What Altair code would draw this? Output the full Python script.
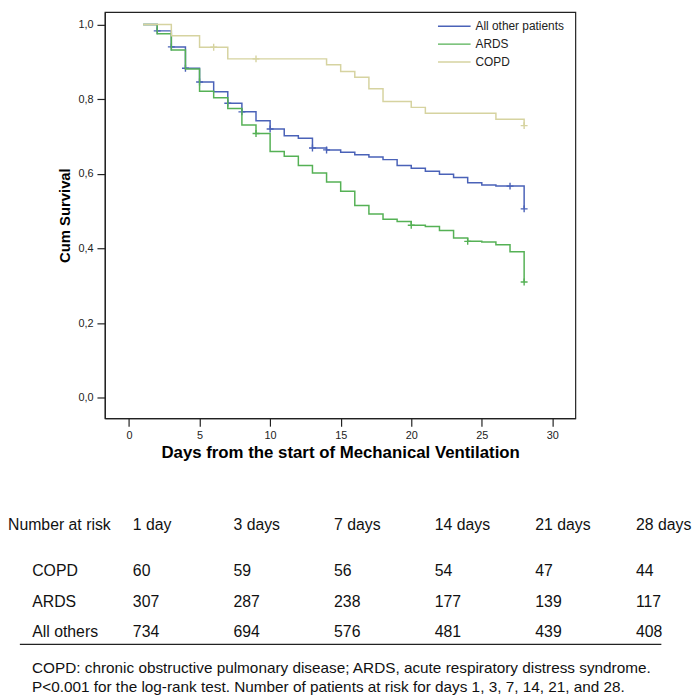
import altair as alt
import pandas as pd

# ---------------- Kaplan-Meier data ----------------
series_names = ["All other patients", "ARDS", "COPD"]
series_colors = ["#4a62b8", "#55b155", "#d6d3a0"]

others_t = [1, 2, 3, 4, 5, 6, 7, 8, 9, 10, 11, 12, 13, 14, 15, 16, 17, 18, 19, 20,
            21, 22, 23, 24, 25, 26, 28]
others_s = [1.0, 0.983, 0.940, 0.883, 0.846, 0.820, 0.789, 0.766, 0.742, 0.720, 0.702,
            0.695, 0.669, 0.664, 0.658, 0.651, 0.645, 0.638, 0.622, 0.615, 0.607, 0.599,
            0.590, 0.576, 0.570, 0.567, 0.506]
others_ct = [2, 3, 4, 5, 7, 8, 10, 13, 14, 27, 28]
others_cs = [0.983, 0.940, 0.883, 0.846, 0.789, 0.766, 0.720, 0.669, 0.664, 0.567, 0.506]

ards_t = [1, 2, 3, 4, 5, 6, 7, 8, 9, 10, 11, 12, 13, 14, 15, 16, 17, 18, 19, 20,
          21, 22, 23, 24, 25, 26, 27, 28]
ards_s = [1.0, 0.975, 0.932, 0.881, 0.821, 0.804, 0.775, 0.731, 0.708, 0.660, 0.647,
          0.622, 0.602, 0.578, 0.553, 0.515, 0.492, 0.478, 0.472, 0.462, 0.459, 0.448,
          0.428, 0.419, 0.417, 0.410, 0.391, 0.310]
ards_ct = [9, 20, 24, 28]
ards_cs = [0.708, 0.462, 0.419, 0.310]

copd_t = [1, 3, 5, 7, 14, 15, 16, 17, 18, 20, 21, 26, 28]
copd_s = [1.0, 0.970, 0.939, 0.908, 0.892, 0.874, 0.859, 0.828, 0.794, 0.778, 0.762,
          0.746, 0.729]
copd_ct = [6, 9, 28]
copd_cs = [0.939, 0.908, 0.729]

x_ticks = [0, 5, 10, 15, 20, 25, 30]
y_ticks = [0.0, 0.2, 0.4, 0.6, 0.8, 1.0]

# ---------------- Number-at-risk table ----------------
table_header = "Number at risk"
table_cols = ["1 day", "3 days", "7 days", "14 days", "21 days", "28 days"]
table_groups = ["COPD", "ARDS", "All others"]
copd_risk = [60, 59, 56, 54, 47, 44]
ards_risk = [307, 287, 238, 177, 139, 117]
others_risk = [734, 694, 576, 481, 439, 408]
footnotes = [
    "COPD: chronic obstructive pulmonary disease; ARDS, acute respiratory distress syndrome.",
    "P<0.001 for the log-rank test. Number of patients at risk for days 1, 3, 7, 14, 21, and 28.",
]

# ---------------- layout ----------------
W, H = 476, 411
X_DOM = [-1.71, 31.63]
Y_DOM = [-0.0551, 1.0336]
FONT = "Liberation Sans"

xs = alt.Scale(domain=X_DOM, nice=False, zero=False)
ys = alt.Scale(domain=Y_DOM, nice=False, zero=False)
cs = alt.Scale(domain=series_names, range=series_colors)


def km_df(name, t, s):
    return pd.DataFrame({"day": t, "surv": s, "group": name})


curves = [
    (series_names[0], others_t, others_s, others_ct, others_cs),
    (series_names[1], ards_t, ards_s, ards_ct, ards_cs),
    (series_names[2], copd_t, copd_s, copd_ct, copd_cs),
]

layers = []
first = True
for name, t, s, ct, csv in curves:
    if first:
        xenc = alt.X("day:Q", scale=xs, title="Days from the start of Mechanical Ventilation",
                     axis=alt.Axis(values=x_ticks, format="d"))
        yenc = alt.Y("surv:Q", scale=ys, title="Cum Survival",
                     axis=alt.Axis(values=y_ticks,
                                   labelExpr="replace(format(datum.value, '.1f'), '.', ',')"))
        first = False
    else:
        xenc = alt.X("day:Q", scale=xs, axis=None)
        yenc = alt.Y("surv:Q", scale=ys, axis=None)
    line = alt.Chart(km_df(name, t, s)).mark_line(
        interpolate="step-after", strokeWidth=1.5
    ).encode(x=xenc, y=yenc, color=alt.Color("group:N", scale=cs, legend=None))
    cens = alt.Chart(km_df(name, ct, csv)).mark_point(
        shape="M-1,0L1,0M0,-1L0,1", size=49, filled=False, strokeWidth=1.4, opacity=1
    ).encode(
        x=alt.X("day:Q", scale=xs, axis=None),
        y=alt.Y("surv:Q", scale=ys, axis=None),
        color=alt.Color("group:N", scale=cs, legend=None),
    )
    layers += [line, cens]

# legend (drawn inside the plot)
leg_df = pd.DataFrame({"group": series_names})
leg_y = alt.Y("group:N", scale=alt.Scale(type="point", domain=series_names,
                                         range=[14.3, 50.7], padding=0), axis=None)
leg_rule = alt.Chart(leg_df).mark_rule(strokeWidth=1.5).encode(
    x=alt.value(337), x2=alt.value(370), y=leg_y,
    color=alt.Color("group:N", scale=cs, legend=None))
leg_text = alt.Chart(leg_df).mark_text(
    align="left", baseline="middle", font=FONT, fontSize=12, color="#222222"
).encode(x=alt.value(375), y=leg_y, text="group:N")
layers += [leg_rule, leg_text]

# table
col_scale = alt.Scale(domain=[1, 6], range=[28.3, 537.3], nice=False, zero=False)
head_df = pd.DataFrame({"col": list(range(1, 7)), "label": table_cols})
head = alt.Chart(head_df).mark_text(
    align="left", baseline="alphabetic", font=FONT, fontSize=16, color="#111111"
).encode(x=alt.X("col:Q", scale=col_scale, axis=None), y=alt.value(523.7), text="label:N")
head_lbl = alt.Chart(pd.DataFrame({"label": [table_header]})).mark_text(
    align="left", baseline="alphabetic", font=FONT, fontSize=16, color="#111111"
).encode(x=alt.value(-98), y=alt.value(523.7), text="label:N")

rows = []
for r, (g, vals) in enumerate(zip(table_groups, [copd_risk, ards_risk, others_risk])):
    rows.append({"row": r, "col": 0, "label": g})
    for c, v in enumerate(vals):
        rows.append({"row": r, "col": c + 1, "label": str(v)})
body = alt.Chart(pd.DataFrame(rows)).mark_text(
    align="left", baseline="alphabetic", font=FONT, fontSize=16, color="#111111"
).encode(
    x=alt.X("col:Q", scale=col_scale, axis=None),
    y=alt.Y("row:Q", scale=alt.Scale(domain=[0, 2], range=[570.3, 632.7], nice=False, zero=False),
            axis=None),
    text="label:N",
)
rule = alt.Chart(pd.DataFrame({"a": [0]})).mark_rule(color="#222222", strokeWidth=1.3).encode(
    x=alt.value(-86), x2=alt.value(563), y=alt.value(639.7))

foot_df = pd.DataFrame({"line": [0, 1], "label": footnotes})
foot = alt.Chart(foot_df).mark_text(
    align="left", baseline="alphabetic", font=FONT, fontSize=15.5, color="#111111"
).encode(
    x=alt.value(-73.7),
    y=alt.Y("line:Q", scale=alt.Scale(domain=[0, 1], range=[668.7, 688], nice=False, zero=False),
            axis=None),
    text="label:N",
)
layers += [head, head_lbl, body, rule, foot]

chart = alt.layer(*layers).resolve_scale(
    x="independent", y="independent"
).properties(
    width=W, height=H, padding=0, background="white"
).configure_view(
    stroke="#222222", strokeWidth=1.2
).configure_axis(
    grid=False, domainColor="#222222", domainWidth=1.2, tickColor="#222222", tickWidth=1.2,
    tickSize=8, labelFont=FONT, labelFontSize=11, labelColor="#222222",
    titleFont=FONT, titleColor="#000000", titleFontWeight="bold",
).configure_axisX(
    labelPadding=3, titlePadding=5, titleFontSize=17,
).configure_axisY(
    labelPadding=4, titlePadding=5, titleFontSize=15,
)

chart.save("out.html", embed_options={"renderer": "svg", "actions": False})
